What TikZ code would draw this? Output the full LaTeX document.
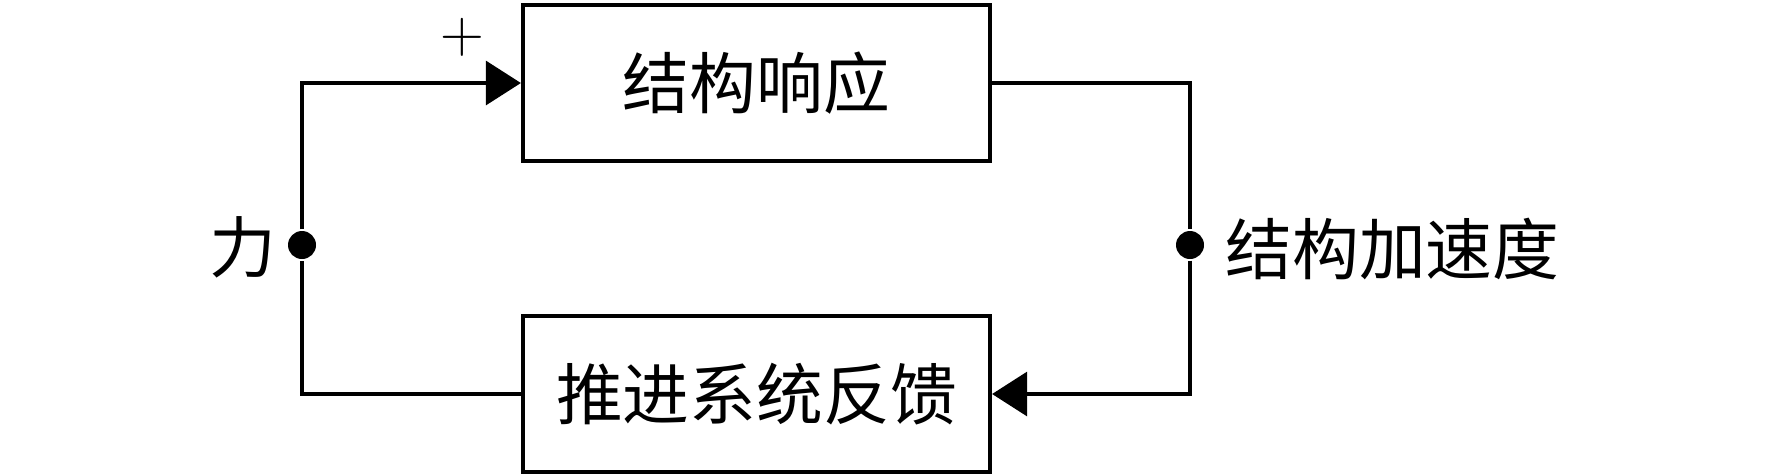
\documentclass[tikz,border=0pt]{standalone}
\usepackage{fontspec}
\newfontfamily\cjk{Noto Sans CJK SC}
\usetikzlibrary{arrows.meta}

\tikzset{
  block/.style={draw, line width=1.2pt, minimum width=4.67cm, minimum height=1.56cm,
    inner sep=0pt, font=\cjk\fontsize{19}{22}\selectfont},
  junction/.style={circle, fill, inner sep=0pt, minimum size=0.28cm},
  lbl/.style={font=\cjk\fontsize{19}{22}\selectfont, inner sep=0pt},
  tip/.style={-{Triangle[length=3.5mm,width=4.4mm]}}
}

\begin{document}
\begin{tikzpicture}[line width=0.9pt]
            \useasboundingbox (0, 0) rectangle (17.72, 4.75);

            \node[block] (resp) at (7.565, 3.92) {结构响应};
            \node[block] (feed) at (7.565, 0.81) {推进系统反馈};

            \node[junction] (fL) at (3.02, 2.30) {};
            \node[junction] (aR) at (11.90, 2.30) {};
            \node[lbl, anchor=east] (force) at (2.78, 2.28) {力};
            \node[lbl, anchor=west] (accel) at (12.24, 2.26) {结构加速度};
            \node[font=\fontsize{17}{20}\selectfont] (plus) at (4.62, 4.38) {$+$};

            \draw (feed.west) -| (fL.south);
            \draw[tip] (fL.north) |- (resp.west);
            \draw (resp.east) -| (aR.north);
            \draw[tip] (aR.south) |- (feed.east);
        \end{tikzpicture}
\end{document}
